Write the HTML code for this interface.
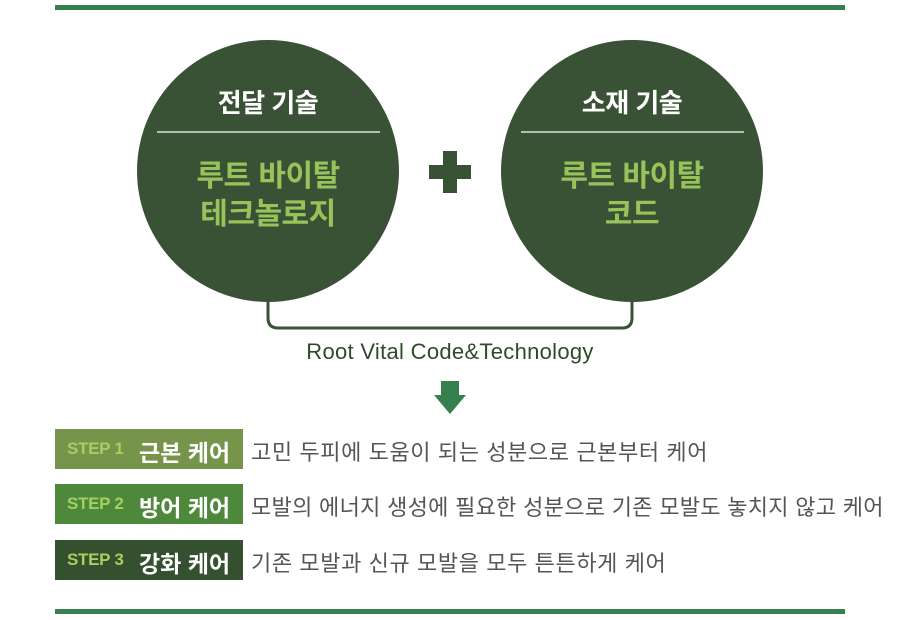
<!DOCTYPE html>
<html><head><meta charset="utf-8"><style>
html,body{margin:0;padding:0;background:#fff;}
body{width:898px;height:620px;position:relative;overflow:hidden;font-family:"Liberation Sans","Noto Sans CJK KR",sans-serif;}
.a{position:absolute;}
.t{position:absolute;text-align:center;white-space:nowrap;}
.box{position:absolute;left:55px;width:188px;height:40px;}
.box span.s{position:absolute;left:12px;top:10px;font-size:17px;font-weight:bold;color:#a6cf63;letter-spacing:-0.3px;}
.box span.k{position:absolute;left:84px;top:5px;font-size:23px;color:#fff;font-weight:bold;letter-spacing:0px;}
.d{position:absolute;left:251px;font-size:22px;color:#555;letter-spacing:0.6px;white-space:nowrap;}
</style></head><body>
<div class="a" style="left:55px;top:5px;width:790px;height:5px;background:#36804f"></div>
<svg class="a" style="left:0;top:0" width="898" height="620">
<path d="M268,300 V318 Q268,328 278,328 H622 Q632,328 632,318 V300" fill="none" stroke="#395235" stroke-width="3"/>
<circle cx="268" cy="171" r="131" fill="#395235"/>
<circle cx="632" cy="171" r="131" fill="#395235"/>
<line x1="157" y1="132" x2="380" y2="132" stroke="#fff" stroke-width="1.2"/>
<line x1="521" y1="132" x2="744" y2="132" stroke="#fff" stroke-width="1.2"/>
<rect x="429" y="165" width="42" height="14" fill="#395235"/>
<rect x="443" y="151" width="14" height="42" fill="#395235"/>
<rect x="441" y="381" width="18" height="15" fill="#36804f"/>
<polygon points="434,395 466,395 450,414" fill="#36804f"/>
</svg>
<div class="t" style="left:168px;width:200px;top:83px;font-size:26px;color:#fff;font-weight:bold;letter-spacing:-0.5px">전달 기술</div>
<div class="t" style="left:168px;width:200px;top:158px;font-size:30px;line-height:38px;color:#97c35a;font-weight:bold;letter-spacing:-0.5px">루트 바이탈<br>테크놀로지</div>
<div class="t" style="left:532px;width:200px;top:83px;font-size:26px;color:#fff;font-weight:bold;letter-spacing:-0.5px">소재 기술</div>
<div class="t" style="left:532px;width:200px;top:158px;font-size:30px;line-height:38px;color:#97c35a;font-weight:bold;letter-spacing:-0.5px">루트 바이탈<br>코드</div>
<div class="t" style="left:200px;width:500px;top:339px;font-size:22px;color:#2f4a2b;letter-spacing:0.3px">Root Vital Code&amp;Technology</div>
<div class="box" style="top:429px;background:#76944a"><span class="s">STEP 1</span><span class="k">근본 케어</span></div>
<div class="d" style="top:435px">고민 두피에 도움이 되는 성분으로 근본부터 케어</div>
<div class="box" style="top:484px;background:#4e883a"><span class="s">STEP 2</span><span class="k">방어 케어</span></div>
<div class="d" style="top:490px;letter-spacing:0.3px">모발의 에너지 생성에 필요한 성분으로 기존 모발도 놓치지 않고 케어</div>
<div class="box" style="top:540px;background:#34502f"><span class="s">STEP 3</span><span class="k">강화 케어</span></div>
<div class="d" style="top:546px">기존 모발과 신규 모발을 모두 튼튼하게 케어</div>
<div class="a" style="left:55px;top:609px;width:790px;height:5px;background:#36804f"></div>
</body></html>
